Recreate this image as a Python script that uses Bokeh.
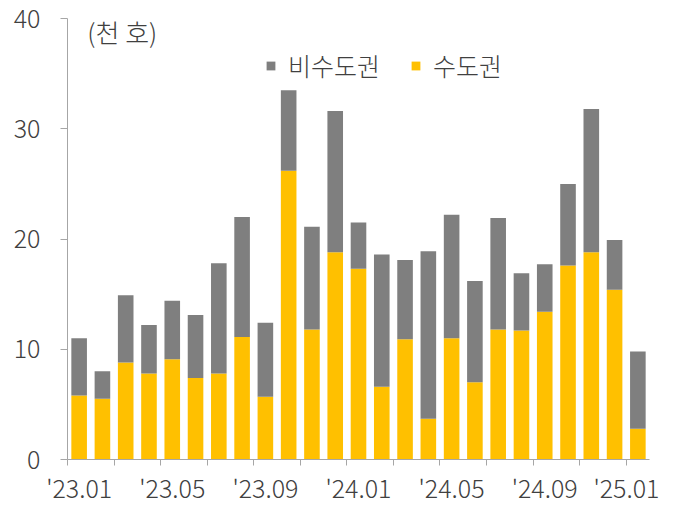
from bokeh.plotting import figure
from bokeh.models import ColumnDataSource, FixedTicker, Legend, LegendItem, Label, Range1d
from bokeh.embed import file_html
from bokeh.resources import INLINE

months = ["'23.01", "'23.02", "'23.03", "'23.04", "'23.05", "'23.06", "'23.07", "'23.08",
          "'23.09", "'23.10", "'23.11", "'23.12", "'24.01", "'24.02", "'24.03", "'24.04",
          "'24.05", "'24.06", "'24.07", "'24.08", "'24.09", "'24.10", "'24.11", "'24.12", "'25.01"]
metro = [5.8, 5.5, 8.8, 7.8, 9.1, 7.4, 7.8, 11.1, 5.7, 26.2, 11.8, 18.8, 17.3,
         6.6, 10.9, 3.7, 11.0, 7.0, 11.8, 11.7, 13.4, 17.6, 18.8, 15.4, 2.8]
nonmetro = [5.2, 2.5, 6.1, 4.4, 5.3, 5.7, 10.0, 10.9, 6.7, 7.3, 9.3, 12.8, 4.2,
            12.0, 7.2, 15.2, 11.2, 9.2, 10.1, 5.2, 4.3, 7.4, 13.0, 4.5, 7.0]
y_ticks = [0, 10, 20, 30, 40]
series_names = ["수도권", "비수도권"]
unit_text = "(천 호)"

FONT = "'Noto Sans CJK KR Light', 'Noto Sans CJK KR DemiLight', 'Noto Sans CJK KR'"
AXIS_COLOR = "#a6a6a6"
TEXT_COLOR = "#404040"

n = len(months)
xs = list(range(n))
src = ColumnDataSource(dict(x=xs, metro=metro, nonmetro=nonmetro))

p = figure(frame_width=582, frame_height=441, output_backend="svg", toolbar_location=None,
           x_range=Range1d(-0.5, n - 0.5), y_range=Range1d(0, y_ticks[-1]),
           min_border_left=67, min_border_top=18, min_border_right=10, min_border_bottom=0)
p.outline_line_color = None
p.grid.grid_line_color = None
p.background_fill_color = "white"
p.border_fill_color = "white"

rs = p.vbar_stack(["metro", "nonmetro"], x="x", width=0.67, source=src,
                  fill_color=["#FFC000", "#7F7F7F"], line_color=None)

# y axis
ya = p.yaxis[0]
ya.ticker = FixedTicker(ticks=y_ticks)
ya.axis_line_color = AXIS_COLOR
ya.major_tick_line_color = AXIS_COLOR
ya.major_tick_out = 7
ya.major_tick_in = 0
ya.minor_tick_line_color = None
ya.major_label_text_font = FONT
ya.major_label_text_font_size = "25px"
ya.major_label_text_color = TEXT_COLOR
ya.major_label_standoff = 20

# x axis
xa = p.xaxis[0]
label_idx = list(range(0, n, 4))
xa.ticker = FixedTicker(ticks=label_idx, minor_ticks=[i - 0.5 for i in range(0, n, 2)])
xa.major_label_overrides = {i: months[i] for i in label_idx}
xa.axis_line_color = AXIS_COLOR
xa.major_tick_line_color = None
xa.major_tick_out = 0
xa.major_tick_in = 0
xa.minor_tick_line_color = AXIS_COLOR
xa.minor_tick_out = 6
xa.minor_tick_in = 0
xa.major_label_text_font = FONT
xa.major_label_text_font_size = "25px"
xa.major_label_text_color = TEXT_COLOR
xa.major_label_standoff = 3

legend = Legend(items=[LegendItem(label=series_names[1], renderers=[rs[1]]),
                       LegendItem(label=series_names[0], renderers=[rs[0]])],
                orientation="horizontal", location=(198, 376),
                background_fill_alpha=0, border_line_color=None,
                glyph_width=11, glyph_height=11, label_standoff=12, spacing=30,
                padding=0, margin=0, label_height=24,
                label_text_font=FONT, label_text_font_size="25px", label_text_color=TEXT_COLOR)
p.add_layout(legend)

p.add_layout(Label(x=0.35, y=38.8, text=unit_text, text_baseline="middle",
                   text_font=FONT, text_font_size="26px", text_color=TEXT_COLOR))

open("out.html", "w").write(file_html(p, INLINE))
